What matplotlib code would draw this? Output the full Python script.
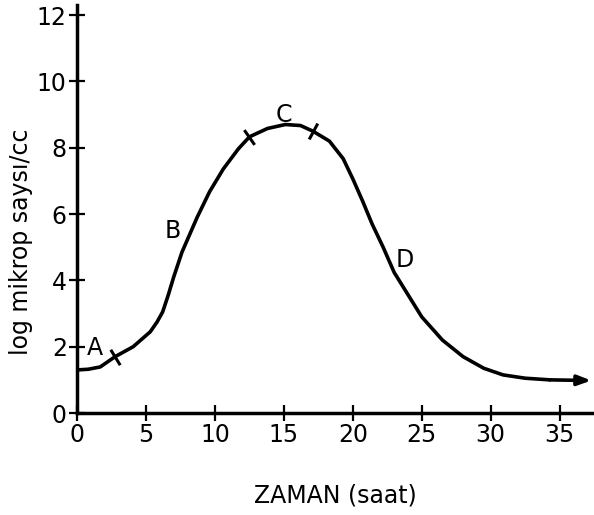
import matplotlib
matplotlib.use("Agg")
import matplotlib.pyplot as plt
import numpy as np

# Data
time_h = [0, 0.8, 1.67, 2.75, 4.06, 5.3, 5.8, 6.2, 6.6, 7.0, 7.6, 8.7, 9.6, 10.6, 11.7,
          12.5, 13.8, 15.1, 16.2, 17.1, 18.3, 19.3, 20.0, 20.7, 21.4, 22.2, 23.0,
          25.0, 26.5, 28.0, 29.5, 30.9, 32.5, 34.3, 37.3]
log_count = [1.3, 1.32, 1.39, 1.7, 2.0, 2.45, 2.75, 3.05, 3.55, 4.1, 4.85, 5.9, 6.67, 7.36, 7.97,
             8.33, 8.58, 8.7, 8.67, 8.5, 8.2, 7.67, 7.06, 6.4, 5.7, 5.0, 4.24,
             2.9, 2.2, 1.7, 1.35, 1.15, 1.05, 1.0, 0.98]
phase_labels = ["A", "B", "C", "D"]
phase_label_pos = [(1.3, 1.97), (6.9, 5.5), (15.0, 9.0), (23.8, 4.6)]
phase_tick_times = [2.75, 12.5, 17.1]
x_ticks = [0, 5, 10, 15, 20, 25, 30, 35]
y_ticks = [0, 2, 4, 6, 8, 10, 12]

plt.rcParams['font.family'] = ["DejaVu Sans"]

fig = plt.figure(figsize=(5.94, 5.15), dpi=100)
ax = fig.add_axes([0.13, 0.198, 0.87, 0.792])
ax.set_xlim(0, 37.5)
ax.set_ylim(0, 12.3)

ax.plot(time_h[:-1], log_count[:-1], color="black", lw=2.6,
        solid_joinstyle="round", solid_capstyle="round")
ax.annotate("", xy=(time_h[-1], log_count[-1]), xytext=(time_h[-2], log_count[-2]),
            arrowprops=dict(arrowstyle="-|>,head_length=0.8,head_width=0.3",
                            color="black", lw=2.6, shrinkA=0, shrinkB=0))

# perpendicular phase ticks
fig.canvas.draw()
for t in phase_tick_times:
    i = time_h.index(t)
    p0 = ax.transData.transform((time_h[i - 1], log_count[i - 1]))
    p1 = ax.transData.transform((time_h[i + 1], log_count[i + 1]))
    ang = np.degrees(np.arctan2(p1[1] - p0[1], p1[0] - p0[0]))
    ax.plot([t], [log_count[i]], marker=(2, 0, ang), markersize=13,
            markeredgewidth=2.2, color="black")

for lab, (x, y) in zip(phase_labels, phase_label_pos):
    ax.text(x, y, lab, fontsize=17, ha="center", va="center")

for s in ["top", "right"]:
    ax.spines[s].set_visible(False)
for s in ["left", "bottom"]:
    ax.spines[s].set_linewidth(2.5)

ax.set_xticks(x_ticks)
ax.set_yticks(y_ticks)
ax.tick_params(direction="inout", length=11, width=1.6, labelsize=17, pad=2)
ax.set_xlabel("ZAMAN (saat)", fontsize=17, labelpad=26)
ax.set_ylabel("log mikrop saysı/cc", fontsize=17)
ax.yaxis.set_label_coords(-0.085, 0.42)

fig.savefig("out.png", dpi=100)
